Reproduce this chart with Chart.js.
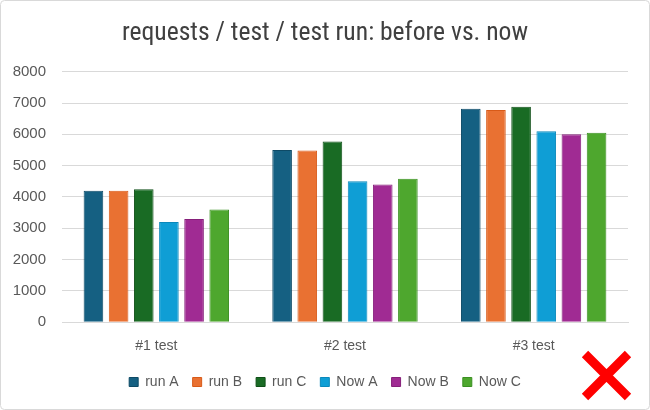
<!DOCTYPE html>
<html>
<head>
<meta charset="utf-8">
<script src="https://cdn.jsdelivr.net/npm/chart.js@4"></script>
<style>
  html, body { margin: 0; padding: 0; background: #fff; }
  #wrap { width: 650px; height: 410px; position: relative; }
</style>
</head>
<body>
<div id="wrap"><canvas id="reqChart" width="650" height="410"></canvas></div>
<script>
// categories and series
const categories = ['#1 test', '#2 test', '#3 test'];
const runA = [4200, 5500, 6820];
const runB = [4200, 5480, 6780];
const runC = [4250, 5770, 6880];
const nowA = [3200, 4500, 6100];
const nowB = [3300, 4400, 6000];
const nowC = [3600, 4580, 6050];
const yTicks = [0, 1000, 2000, 3000, 4000, 5000, 6000, 7000, 8000];

const fills   = ['#156082', '#E97132', '#196B24', '#0F9ED5', '#A02B93', '#4EA72E'];
const borders = ['#0e4a66', '#d85a18', '#0f4f17', '#0a88bb', '#86207a', '#3b9022'];

function ds(label, data, i) {
    return {
        label: label,
        data: data,
        backgroundColor: fills[i],
        borderColor: borders[i],
        borderWidth: 1,
        categoryPercentage: 0.8,
        barPercentage: 0.78
    };
}

// frame + red cross drawn on top
const decor = {
    id: 'decor',
    afterDraw(chart) {
        const c = chart.ctx;
        c.save();
        c.strokeStyle = '#d9d9d9';
        c.lineWidth = 1;
        c.beginPath();
        c.roundRect(0.5, 0.5, 649, 409, 4);
        c.stroke();
        c.strokeStyle = '#ff0000';
        c.lineWidth = 9;
        c.lineCap = 'butt';
        c.beginPath();
        c.moveTo(585, 354); c.lineTo(628, 397);
        c.moveTo(628, 354); c.lineTo(585, 397);
        c.stroke();
        c.restore();
    }
};

const ctx = document.getElementById('reqChart').getContext('2d');
new Chart(ctx, {
    type: 'bar',
    data: {
        labels: categories,
        datasets: [
            ds('run A', runA, 0),
            ds('run B', runB, 1),
            ds('run C', runC, 2),
            ds('Now A', nowA, 3),
            ds('Now B', nowB, 4),
            ds('Now C', nowC, 5)
        ]
    },
    options: {
        responsive: false,
        animation: false,
        layout: { padding: { left: 13, right: 13, top: 8, bottom: 11 } },
        scales: {
            x: {
                grid: { display: false },
                border: { display: true, color: '#d9d9d9', width: 1 },
                ticks: { color: '#595959', font: { family: 'Liberation Sans', size: 14 }, padding: 8 },
                afterFit: axis => { axis.height -= 2; }
            },
            y: {
                min: 0,
                max: 8000,
                afterBuildTicks: axis => { axis.ticks = yTicks.map(v => ({ value: v })); },
                afterFit: axis => { axis.width = 49; },
                grid: { color: '#d9d9d9', lineWidth: 1, drawTicks: false },
                border: { display: false },
                ticks: {
                    color: '#595959',
                    font: { family: 'Liberation Sans', size: 15 },
                    padding: 16,
                    callback: v => String(v)
                }
            },
            // empty spacer on the right so the plot ends where the reference does
            yRight: {
                position: 'right',
                display: true,
                grid: { display: false },
                border: { display: false },
                ticks: { display: false },
                afterFit: axis => { axis.width = 9; }
            }
        },
        plugins: {
            title: {
                display: true,
                text: 'requests / test / test run: before vs. now',
                color: '#404040',
                font: { family: "'Liberation Sans Narrow', 'Roboto Condensed', Roboto", size: 25.6, weight: 'normal' },
                padding: { top: 10, bottom: 23 }
            },
            legend: {
                position: 'bottom',
                labels: {
                    color: '#595959',
                    font: { family: 'Liberation Sans', size: 14 },
                    boxWidth: 9,
                    boxHeight: 9,
                    padding: 14
                }
            },
            tooltip: { enabled: false }
        }
    },
    plugins: [decor]
});
</script>
</body>
</html>
